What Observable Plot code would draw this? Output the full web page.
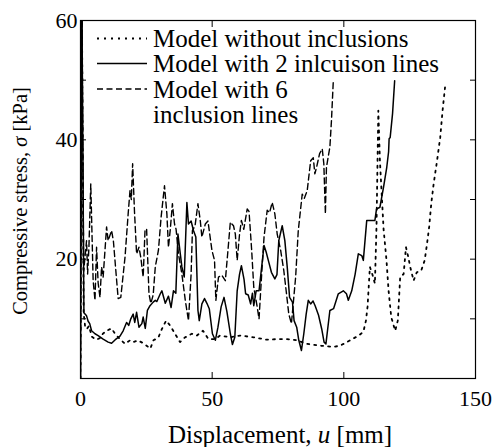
<!DOCTYPE html>
<html>
<head>
<meta charset="utf-8">
<script src="https://cdn.jsdelivr.net/npm/d3@7"></script>
<script src="https://cdn.jsdelivr.net/npm/@observablehq/plot@0.6"></script>
<style>
  html, body { margin: 0; padding: 0; background: white; }
  #chart { width: 494px; height: 447px; overflow: hidden; }
  #chart svg, #chart svg text { font-family: "Liberation Serif", "Times New Roman", serif !important; }
</style>
</head>
<body>
<div id="chart"></div>
<script>
// ---- data (displacement u [mm], compressive stress sigma [kPa]) ----
const noIncX = [0,0.5,1.2,1.8,2.4,3.2,4.3,6,7.5,8.5,9.9,11.8,13.1,15,16.9,18.8,20,21.9,23.8,25.1,26.5,27.7,29.6,30.9,32.5,34,35.9,37.8,39.7,42.3,44.2,46.5,48.6,51.1,53,56.8,60.6,65.7,70.8,74.6,78.4,82.2,85.9,91,96.1,98.6,102.4,105.6,107.4,108.4,109,109.9,110.8,111.8,112.4,113.1,113.7,115.1,116.2,117,118,119.5,120.5,121.4,122.7,123.6,124.5,125.2,126.5,127.7,129.4,130.7,131.6,132.4,133.2,134.1,135.4,136.6,137.5,138.5];
const noIncY = [0,65,11,8.5,8.3,8.8,7,6.5,6.8,7.5,8,8.4,7.5,6.6,5.8,6.4,6.1,6.4,5.9,5.5,5,6.4,6.9,8.3,9.7,8.9,7.5,6.1,6.9,7.5,7.2,8,6.6,6.6,7.2,6.9,7.2,6.9,6.5,6.6,6.6,6.4,5.8,5.5,5.3,5.5,6.4,7.2,7.8,9.7,12,18.7,17.5,15.9,25.4,44.9,36.5,25,19.8,14.7,10.3,8,9.7,17,17.5,22,20.3,18.7,16.4,17.8,18.1,19.8,22.6,25.4,29.3,32.6,36.5,40.4,44.9,49.1];

const twoX = [0,0.5,1.3,2.3,2.9,3.5,4.2,5.5,6.7,8.6,10.5,11.8,13.2,15,16.2,17.5,18.3,19.1,20,20.6,21.3,22.2,23.3,23.8,24.6,25.4,26.4,27.6,28.4,29,30.3,30.9,32.2,33.4,34.4,35.3,36.2,37,37.9,38.5,39.4,40.4,41,42,42.9,43.8,44.6,45.1,46.1,47.1,48,48.9,50.1,51.2,52.2,53.4,54.5,55.6,56.9,57.7,58.6,59.5,60.4,61.1,62.1,62.7,63.7,64.6,65.3,65.8,66.7,67.8,68.8,69.7,70.5,71.5,72.5,73.8,74.6,75.3,76.6,77.6,78.5,79.4,80.5,81.1,82.1,82.9,83.9,84.8,85.7,86.5,87.4,88.3,89.1,90.4,91.6,92.5,93.2,94.7,96.1,97.9,99.8,101,101.7,103,104.3,105.5,106.8,107.4,108.7,110.6,111.8,112.4,113.7,115.1,116.3,117,117.2,117.6,118.5,119.3];
const twoY = [0,65,11,10.5,9.6,9.2,8,7.5,7.2,6.6,6.1,5.9,6.5,7.1,8,9.4,8.9,10,10.8,9.4,11.1,8.6,9.2,10.3,8.4,11.4,12.2,12.8,13.1,12.9,14.2,14.7,12.6,13.8,11.9,14.7,14.3,24.2,20.9,18.7,17,29.5,25.9,26.4,24.8,23.7,11.4,9.7,12.5,13.4,12.6,11.7,7.5,6.4,8.6,12,13.6,11.2,7.5,5.7,6.9,14.7,17.5,18.9,16.6,14.2,14,12.5,14.3,12.2,14.7,14.7,18.7,22.3,21.2,19.5,17.8,16.7,17.4,23.1,25.6,23.1,18.7,13.6,12.8,9.7,8.6,6.4,4.7,7.5,10.8,13.1,12.5,13,12.2,10.6,8.3,6.1,5.8,11.4,11.7,14.2,14.7,14.2,13.1,14.7,17.5,20.9,20.6,19.8,26.5,26.5,26.5,28.4,28.7,32.1,35.4,38,40.2,40.4,44.4,49.9];

const sixX = [0,0.5,1.2,2.3,2.7,3.2,3.9,4.8,5.5,6.1,6.7,7.4,8,8.6,9.3,9.9,10.5,11.2,11.8,12.5,13.3,14.3,15.3,16.9,18.1,18.8,19.3,19.8,20.5,21.3,22.2,22.9,23.8,24.5,25.1,26,26.7,27.6,28.4,29.6,30.6,31.9,32.8,33.4,34.1,34.9,35.7,36.3,37.2,38.5,39.8,41,42,42.5,43.5,44.6,45.5,46.1,47.4,48.4,49.9,50.9,51.4,52.4,53.7,55,56,56.9,58.1,58.8,59.5,60.4,61.1,62,63.3,64,65,65.8,67.1,67.8,68.8,69.7,70.9,71.8,72.8,73.8,74.7,76,77.2,78.1,79.1,80.1,81.7,82.7,84.2,85,86.1,87.4,88.4,89,89.7,90.8,91.8,92.4,93,93.4,94.7,95.3,96];
const sixY = [0,65,18,23.1,17.5,22,32.6,16.4,13.1,22,16,13.6,18.7,17,21.5,25.4,23.1,24,24.8,23,18.7,13.4,13.6,20.3,27.6,31.5,30,36,28,20.9,22,20.3,17,24.8,25.1,14.2,12.6,14,18.7,21.5,27,32.3,27.6,22,25,29.3,25.9,25,20.9,17.5,13.1,9.7,17.5,24.8,25.6,29.3,26.4,23.7,25.9,26.4,21.5,19.8,13.1,17,17.3,16.4,21.5,26.2,25.6,24.2,19.8,24.2,26.5,25,28.4,28,21.5,15.3,12,10,17.5,23.7,28.2,27.8,29.5,27.6,24.2,21.5,18.1,14.7,10.8,9.2,17,24.8,30.9,30.2,31.5,36.5,37,34.3,35.5,37.7,38.5,36,27.6,35.4,38.8,43.2,49.9];

const seriesNames = ["Model without inclusions", "Model with 2 inlcuison lines", "Model with 6", "inclusion lines"];
const xTickLabels = [0, 50, 100, 150];
const yTickLabels = [20, 40, 60];
const xMinorTicks = [50, 100];
const yMinorTicks = [10, 20, 30, 40, 50];

const toRows = (xs, ys) => xs.map((x, i) => ({x, y: ys[i]}));
const noInc = toRows(noIncX, noIncY);
const two = toRows(twoX, twoY);
const six = toRows(sixX, sixY);

const FONT = "'Liberation Serif', 'Times New Roman', serif";
const blank = () => "";
const TK = 6;
const DOT = "2,5";
const DASH = "6,3.5";

const plot = Plot.plot({
  width: 494,
  height: 447,
  marginLeft: 80,
  marginRight: 19,
  marginTop: 20,
  marginBottom: 69,
  style: {fontFamily: FONT, background: "white", color: "black"},
  x: {domain: [0, 150], label: null},
  y: {domain: [0, 60], label: null},
  marks: [
    Plot.line(noInc, {x: "x", y: "y", stroke: "black", strokeWidth: 1.8, strokeDasharray: DOT, clip: true}),
    Plot.line(two, {x: "x", y: "y", stroke: "black", strokeWidth: 1.5, clip: true}),
    Plot.line(six, {x: "x", y: "y", stroke: "black", strokeWidth: 1.4, strokeDasharray: DASH, clip: true}),
    Plot.frame({stroke: "black", strokeWidth: 1.2}),
    Plot.axisX({anchor: "bottom", ticks: xTickLabels, tickSize: 0, tickPadding: 12, fontSize: 22, label: null}),
    Plot.axisX({anchor: "bottom", ticks: xMinorTicks, tickSize: TK, dy: -TK, tickFormat: blank, label: null}),
    Plot.axisX({anchor: "top", ticks: xMinorTicks, tickSize: TK, dy: TK, tickFormat: blank, label: null}),
    Plot.axisY({anchor: "left", ticks: yTickLabels, tickSize: 0, tickPadding: 3, fontSize: 22, label: null}),
    Plot.axisY({anchor: "left", ticks: yMinorTicks, tickSize: TK, dx: TK, tickFormat: blank, label: null}),
    Plot.axisY({anchor: "right", ticks: yMinorTicks, tickSize: TK, dx: -TK, tickFormat: blank, label: null})
  ]
});

document.getElementById("chart").appendChild(plot);

const svg = d3.select(plot);
// axis titles
const xt = svg.append("text")
  .attr("x", 280).attr("y", 443)
  .attr("text-anchor", "middle")
  .attr("font-size", 25).attr("fill", "black");
xt.append("tspan").text("Displacement, ");
xt.append("tspan").attr("font-style", "italic").text("u");
xt.append("tspan").text(" [mm]");

const yt = svg.append("text")
  .attr("transform", "translate(27,201) rotate(-90)")
  .attr("text-anchor", "middle")
  .attr("font-size", 20.5).attr("fill", "black");
yt.append("tspan").text("Compressive stress, ");
yt.append("tspan").attr("font-style", "italic").text("σ");
yt.append("tspan").text(" [kPa]");

// legend: sample lines + one multi-line text block
const legRows = [38.5, 63.5, 89, 114.5];
const legStyles = [
  {dash: DOT, w: 1.8},
  {dash: null, w: 1.5},
  {dash: DASH, w: 1.4}
];
const leg = svg.append("g");
legStyles.forEach((s, i) => {
  leg.append("line").attr("x1", 97).attr("x2", 147).attr("y1", legRows[i]).attr("y2", legRows[i])
    .attr("stroke", "black").attr("stroke-width", s.w)
    .attr("stroke-dasharray", s.dash);
});
const legText = leg.append("text")
  .attr("font-size", 25)
  .attr("fill", "black").attr("text-anchor", "start");
seriesNames.forEach((name, i) => {
  legText.append("tspan").attr("x", 153).attr("y", legRows[i]).attr("dy", "0.35em").text(name);
});
</script>
</body>
</html>
